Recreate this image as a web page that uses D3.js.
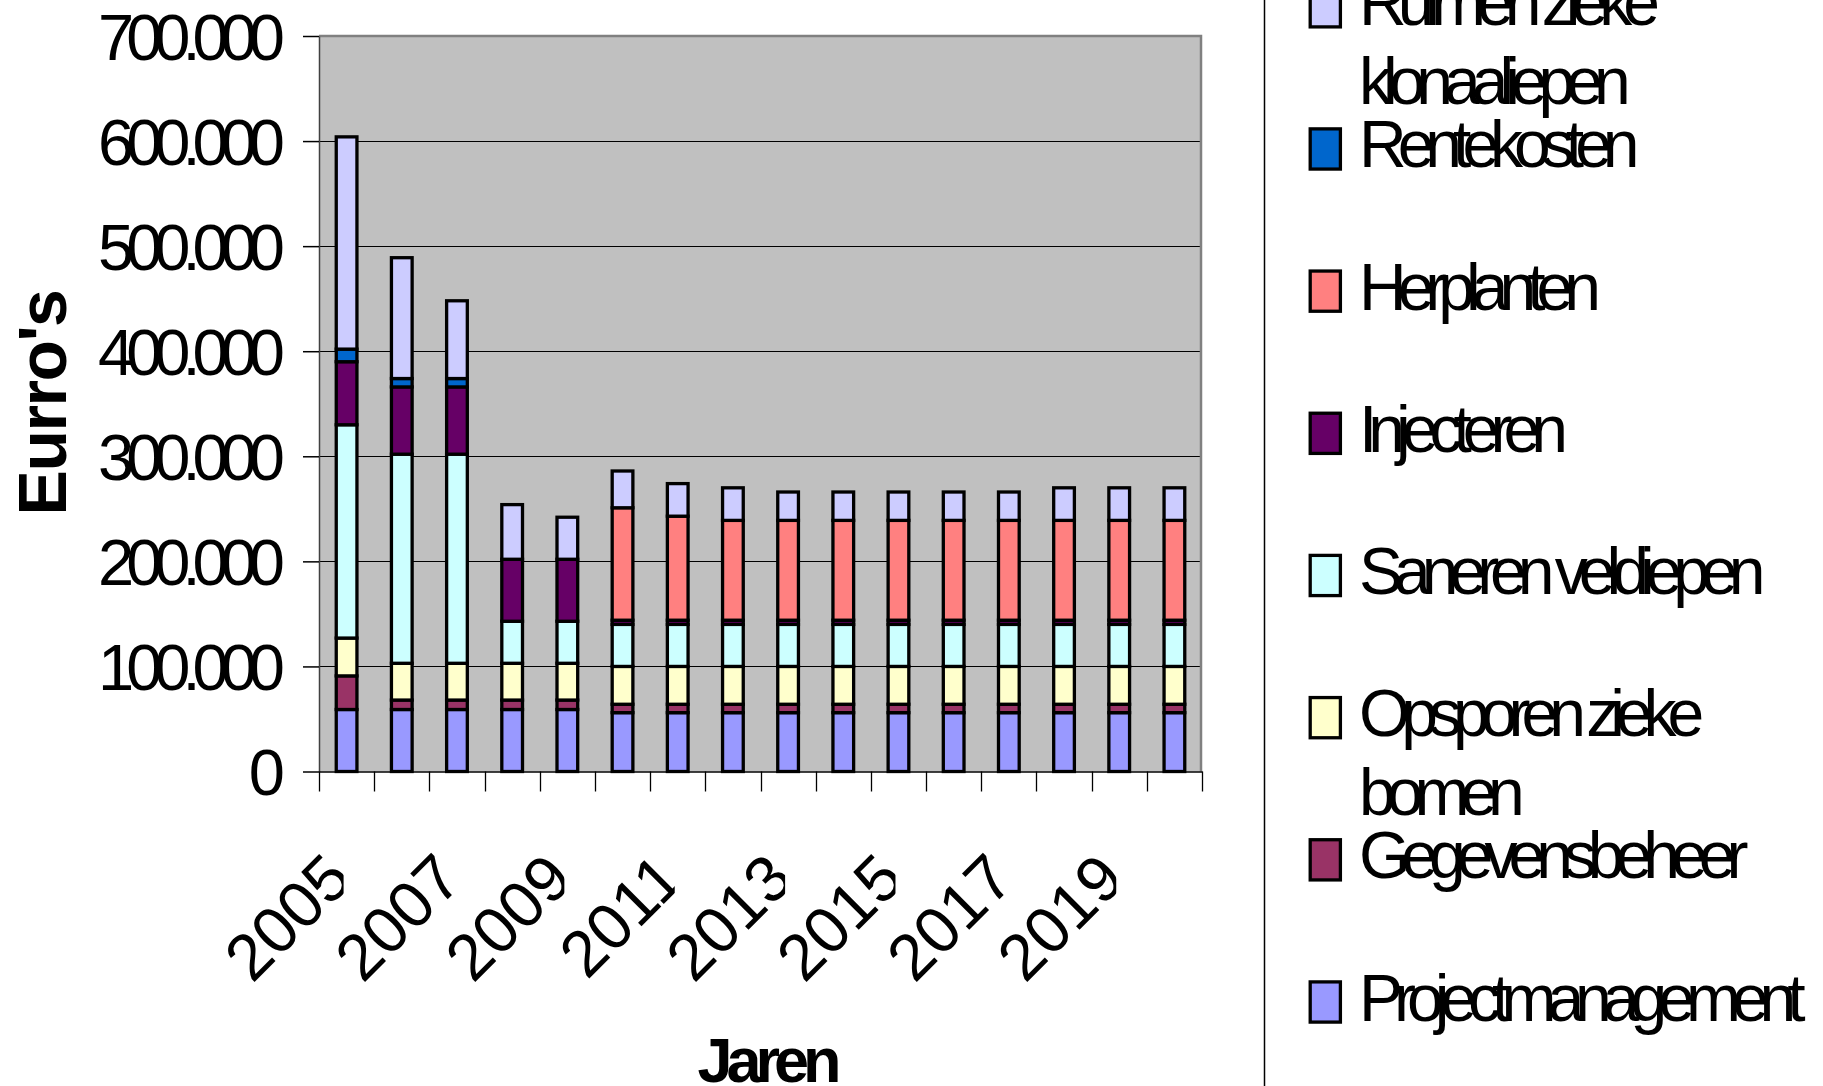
<!DOCTYPE html>
<html><head><meta charset="utf-8">
<script src="https://cdn.jsdelivr.net/npm/d3@7"></script>
<style>
body{margin:0;background:#fff;}
svg{display:block;font-family:"Liberation Sans",Arial,Helvetica,sans-serif;}
</style>
</head><body>
<svg id="chart" width="1823" height="1086"></svg>
<script>
// ---------- data ----------
const years = ["2005","2006","2007","2008","2009","2010","2011","2012","2013","2014","2015","2016","2017","2018","2019","2020"];
const projectmanagement = [59000,59000,59000,59000,59000,56000,56000,56000,56000,56000,56000,56000,56000,56000,56000,56000];
const gegevensbeheer    = [32000,9000,9000,9000,9000,8000,8000,8000,8000,8000,8000,8000,8000,8000,8000,8000];
const opsporen          = [36000,35000,35000,35000,35000,36000,36000,36000,36000,36000,36000,36000,36000,36000,36000,36000];
const saneren           = [203000,199000,199000,40000,40000,40000,40000,40000,40000,40000,40000,40000,40000,40000,40000,40000];
const injecteren        = [60000,64000,64000,59000,59000,4000,4000,4000,4000,4000,4000,4000,4000,4000,4000,4000];
const herplanten        = [0,0,0,0,0,107000,99000,95000,95000,95000,95000,95000,95000,95000,95000,95000];
const rentekosten       = [12000,8000,8000,0,0,0,0,0,0,0,0,0,0,0,0,0];
const ruimen            = [202000,115000,74000,52000,40000,35000,31000,31000,27000,27000,27000,27000,27000,31000,31000,31000];

const seriesKeys   = ["Projectmanagement","Gegevensbeheer","Opsporen zieke bomen","Saneren veldiepen","Injecteren","Herplanten","Rentekosten","Ruimen zieke klonaaliepen"];
const seriesValues = [projectmanagement,gegevensbeheer,opsporen,saneren,injecteren,herplanten,rentekosten,ruimen];
const seriesColors = ["#9999FF","#993366","#FFFFCC","#CCFFFF","#660066","#FF8080","#0066CC","#CCCCFF"];
const legendLines  = [["Projectmanagement"],["Gegevensbeheer"],["Opsporen zieke","bomen"],["Saneren veldiepen"],["Injecteren"],["Herplanten"],["Rentekosten"],["Ruimen zieke","klonaaliepen"]];

const xTickLabels = ["2005","2007","2009","2011","2013","2015","2017","2019"];
const yTickValues = [0,100000,200000,300000,400000,500000,600000,700000];
const yTitle = "Eurro's";
const xTitle = "Jaren";

// ---------- layout ----------
const W = 1823, H = 1086;
const plot = {left:319, right:1202, top:36, bottom:771.5};
const svg = d3.select("#chart");

const x = d3.scaleBand().domain(years).range([plot.left, plot.right]).paddingInner(0.625).paddingOuter(0.3125);
const y = d3.scaleLinear().domain([0, 700000]).range([plot.bottom, plot.top]);

const table = years.map((yr, i) => {
  const row = {year: yr};
  seriesKeys.forEach((k, j) => row[k] = seriesValues[j][i]);
  return row;
});
const stacked = d3.stack().keys(seriesKeys)(table);
const color = d3.scaleOrdinal().domain(seriesKeys).range(seriesColors);

// plot background
svg.append("rect")
  .attr("x", plot.left).attr("y", plot.top)
  .attr("width", plot.right - plot.left).attr("height", plot.bottom - plot.top)
  .attr("fill", "#C0C0C0");

// gridlines
svg.append("g").selectAll("line")
  .data(yTickValues.filter(v => v > 0 && v < 700000))
  .join("line")
  .attr("x1", plot.left).attr("x2", plot.right)
  .attr("y1", d => Math.round(y(d)) + 0.5).attr("y2", d => Math.round(y(d)) + 0.5)
  .attr("stroke", "#000").attr("stroke-width", 1);

// plot border top/right
svg.append("path")
  .attr("d", `M${plot.left},${plot.top}H${plot.right - 1}V${plot.bottom}`)
  .attr("fill", "none").attr("stroke", "#808080").attr("stroke-width", 2.5);

// bars
const layer = svg.append("g").selectAll("g").data(stacked).join("g")
  .attr("fill", d => color(d.key));
layer.selectAll("rect").data(d => d.filter(s => s[1] - s[0] > 0)).join("rect")
  .attr("x", d => x(d.data.year))
  .attr("width", x.bandwidth())
  .attr("y", d => y(d[1]))
  .attr("height", d => y(d[0]) - y(d[1]))
  .attr("stroke", "#000").attr("stroke-width", 3.3);

// y axis
const nlFmt = d3.formatLocale({decimal: ",", thousands: ".", grouping: [3], currency: ["€", ""]}).format(",d");
const yAxis = svg.append("g").attr("transform", `translate(${plot.left},0)`)
  .call(d3.axisLeft(y).tickValues(yTickValues).tickFormat(nlFmt).tickSize(16).tickSizeOuter(0));
yAxis.select(".domain").attr("stroke", "#404040").attr("stroke-width", 1.5);
yAxis.selectAll(".tick line").attr("stroke", "#000").attr("stroke-width", 1.5);
yAxis.selectAll(".tick text")
  .attr("x", -42).attr("dy", "0.36em")
  .attr("fill", "#000").attr("font-size", 65).attr("letter-spacing", "-8px")
  .attr("font-family", "Liberation Sans, Arial, sans-serif");

// x axis (labels at band centres, clipped like the original)
const defs = svg.append("defs");
defs.append("clipPath").attr("id", "xlabclip")
  .append("rect").attr("x", -1000).attr("y", -1000).attr("width", 997).attr("height", 3000);

const xAxis = svg.append("g").attr("transform", `translate(0,${plot.bottom})`)
  .call(d3.axisBottom(x).tickValues(xTickLabels).tickSize(0).tickSizeOuter(0));
xAxis.select(".domain").attr("stroke", "#000").attr("stroke-width", 1.5);
xAxis.selectAll(".tick").attr("clip-path", "url(#xlabclip)");
xAxis.selectAll(".tick text")
  .attr("x", 0).attr("y", 0).attr("dy", 0)
  .attr("text-anchor", "end")
  .attr("transform", `translate(8,${882 - plot.bottom}) rotate(-45)`)
  .attr("fill", "#000").attr("font-size", 65).attr("letter-spacing", "0px")
  .attr("font-family", "Liberation Sans, Arial, sans-serif");

// category boundary ticks
const boundaries = years.map(yr => x(yr) - x.step() * x.paddingInner() / 2)
  .concat([x(years[years.length - 1]) - x.step() * x.paddingInner() / 2 + x.step()]);
svg.append("g").selectAll("line").data(boundaries).join("line")
  .attr("x1", d => Math.round(d) + 0.5).attr("x2", d => Math.round(d) + 0.5)
  .attr("y1", plot.bottom).attr("y2", plot.bottom + 20)
  .attr("stroke", "#000").attr("stroke-width", 1.3);

// axis titles
svg.append("text")
  .attr("transform", `translate(66,403) rotate(-90)`)
  .attr("text-anchor", "middle")
  .attr("font-weight", "bold").attr("font-size", 68).attr("letter-spacing", "-1.5px")
  .text(yTitle);
svg.append("text")
  .attr("x", (plot.left + plot.right) / 2 + 6).attr("y", 1082)
  .attr("text-anchor", "middle")
  .attr("font-weight", "bold").attr("font-size", 63).attr("letter-spacing", "-6px")
  .text(xTitle);

// legend
svg.append("line").attr("x1", 1264.5).attr("x2", 1264.5).attr("y1", 0).attr("y2", H)
  .attr("stroke", "#000").attr("stroke-width", 1.5);
const legendOrder = seriesKeys.map((k, i) => i).reverse();
const ly = d3.scalePoint().domain(legendOrder).range([6.8, 1002]);
const lg = svg.append("g").selectAll("g").data(legendOrder).join("g")
  .attr("transform", i => `translate(0,${ly(i)})`);
lg.append("rect")
  .attr("x", 1310.2).attr("y", -20.1).attr("width", 30.2).attr("height", 40.2)
  .attr("fill", i => seriesColors[i]).attr("stroke", "#000").attr("stroke-width", 3.3);
lg.append("text")
  .attr("font-size", 66).attr("letter-spacing", "-9px").attr("fill", "#000")
  .selectAll("tspan").data(i => legendLines[i]).join("tspan")
  .attr("x", 1359).attr("y", (d, k) => 18.5 + k * 79)
  .text(d => d);
</script>
</body></html>
